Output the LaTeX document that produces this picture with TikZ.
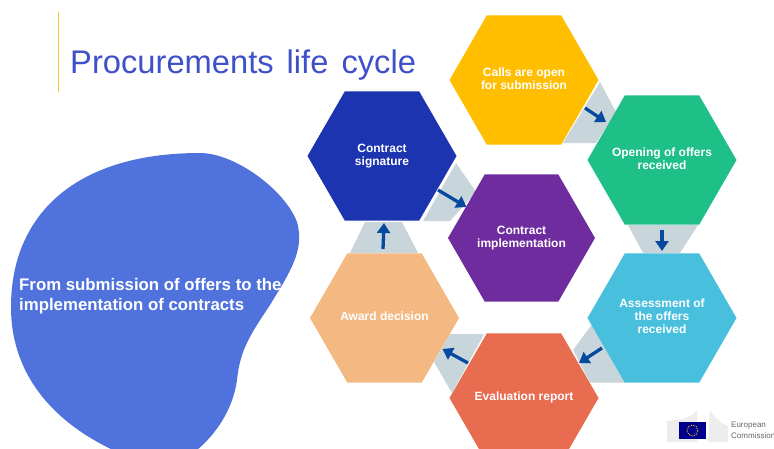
\documentclass[tikz,border=0pt]{standalone}
\usepackage{fontspec}
\setmainfont{Liberation Sans}
\usetikzlibrary{shapes.geometric,arrows.meta}
\definecolor{cyellow}{HTML}{FFBE00}
\definecolor{cgreen}{HTML}{1FBF88}
\definecolor{ccyan}{HTML}{48BFDD}
\definecolor{cred}{HTML}{E86C50}
\definecolor{corange}{HTML}{F4B982}
\definecolor{cblue}{HTML}{1D34B0}
\definecolor{cpurple}{HTML}{6F2C9E}
\definecolor{cgrey}{HTML}{C8D5DA}
\definecolor{carrow}{HTML}{054A9E}
\definecolor{cblob}{HTML}{5072DC}
\definecolor{ctitle}{HTML}{3F51C8}
\definecolor{crule}{HTML}{F5C93C}
\newcommand\hexlabel[1]{\makebox[0pt][c]{\begin{tabular}{@{}c@{}}#1\end{tabular}}}
\tikzset{
  hex/.style={regular polygon,regular polygon sides=6,minimum size=149pt,inner sep=0pt,
    text=white,font=\fontsize{12}{13}\selectfont\bfseries},
  link/.style={fill=cgrey,draw=none},
  flow/.style={draw=carrow,line width=3.3pt,-{Triangle[length=10pt,width=13pt]}},
}
\begin{document}
\begin{tikzpicture}[x=1pt,y=-1pt]
\useasboundingbox (0,0) rectangle (774,448);
\fill[white] (0,0) rectangle (774,448);
\draw[crule,line width=1.6pt] (58.5,12) -- (58.5,92);
\node[anchor=base west,inner sep=0pt,text=ctitle,font=\fontsize{32.7}{34}\selectfont] (title) at (70,73) {Procurements\hspace{13pt}life\hspace{13pt}cycle};
% blob
\begin{scope}
\clip (0,0) rectangle (774,448);
\fill[cblob] (200,153) .. controls (235,153) and (285,190) .. (297,222)
 .. controls (305,250) and (290,272) .. (270,305)
 .. controls (250,335) and (240,350) .. (237,380)
 .. controls (233,410) and (215,435) .. (197,450)
 -- (113,450)
 .. controls (60,425) and (11,380) .. (11,307)
 .. controls (11,215) and (75,153) .. (200,153) -- cycle;
\end{scope}
\node[anchor=west,inner sep=0pt,align=left,text=white,font=\fontsize{16.8}{20}\selectfont\bfseries] (lead) at (19,296) {From submission of offers to the\\implementation of contracts};
% grey links
\fill[link] (600,82) -- (616,112) -- (596,143) -- (563,143) -- cycle;
\fill[link] (628,225) -- (698,225) -- (680,253) -- (643,253) -- cycle;
\fill[link] (593,323) -- (626,382.5) -- (590,382.5) -- (573,350) -- cycle;
\fill[link] (450,334) -- (484,334) -- (452,393) -- (434,362) -- cycle;
\fill[link] (350,253) -- (418,253) -- (402,222) -- (365,222) -- cycle;
\fill[link] (456,163) -- (476,192) -- (450,221) -- (423,221) -- cycle;
% hexagons
\node[hex,fill=cyellow] (calls) at (524,80) {\hexlabel{Calls are open\\for submission}};
\node[hex,fill=cgreen] (open) at (662,160) {\hexlabel{Opening of offers\\received}};
\node[hex,fill=ccyan] (assess) at (662,318) {\raisebox{-1.5pt}{\hexlabel{Assessment of\\the offers\\received}}};
\node[hex,fill=cred] (eval) at (524,398) {\hexlabel{Evaluation report}};
\node[hex,fill=corange] (award) at (384.5,318) {\hexlabel{Award decision}};
\node[hex,fill=cblue] (sign) at (382,156) {\hexlabel{Contract\\signature}};
\node[hex,fill=cpurple,minimum size=147pt] (impl) at (521.5,238) {\hexlabel{Contract\\implementation}};
% arrows
\draw[flow] ([shift={(61,28)}]calls.center) -- ([shift={(-56,-38)}]open.center);
\draw[flow] ([shift={(0,70)}]open.center) -- ([shift={(0,-67)}]assess.center);
\draw[flow] ([shift={(-60,30)}]assess.center) -- ([shift={(55,-35)}]eval.center);
\draw[flow] ([shift={(-56,-35)}]eval.center) -- ([shift={(58,31)}]award.center);
\draw[flow] ([shift={(-1.5,-69)}]award.center) -- ([shift={(2,67)}]sign.center);
\draw[flow] ([shift={(56,34)}]sign.center) -- ([shift={(-55,-31)}]impl.center);
% logo
\fill[gray!14] (667,421) .. controls (680,420) and (692,418) .. (697,410) -- (697,442) -- (667,442) -- cycle;
\fill[gray!14] (710,410) .. controls (714,418) and (722,424) .. (728,426) -- (728,442) -- (708,442) -- cycle;
\fill[blue!55!black] (679,422) rectangle (706,439);
\draw[yellow!80!orange,densely dotted,line width=0.8pt] (692.5,430.5) circle (5.5pt);
\node[anchor=north west,inner sep=0pt,text=gray!80!black,align=left,font=\fontsize{8}{10.5}\selectfont] (ec) at (731,422) {European\\Commission};
\end{tikzpicture}
\end{document}
